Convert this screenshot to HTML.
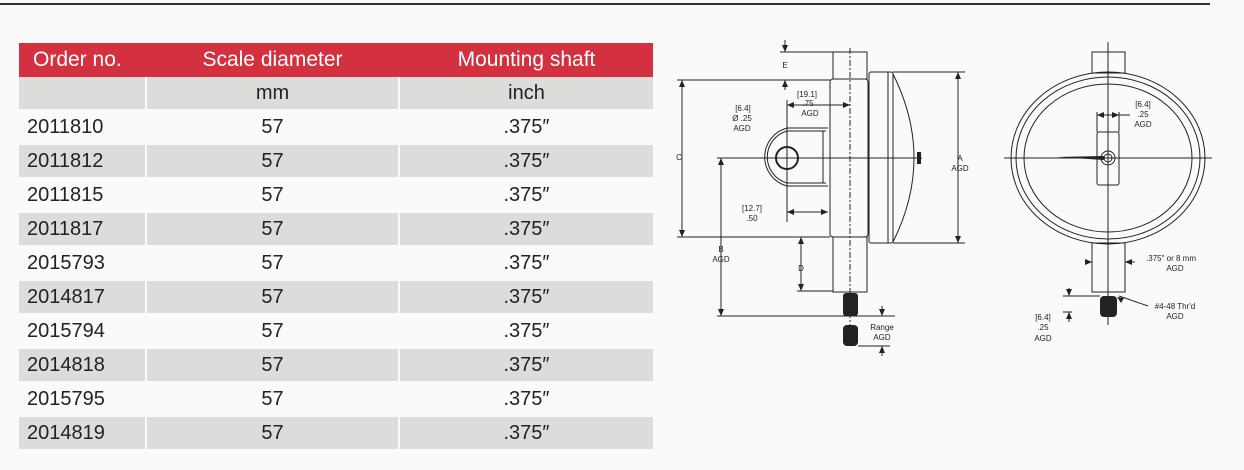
<!DOCTYPE html>
<html><head><meta charset="utf-8"><style>
body{margin:0;width:1244px;height:470px;background:#fafafa;position:relative;overflow:hidden;font-family:"Liberation Sans",sans-serif}
.top{position:absolute;left:0;top:3px;width:1210px;height:2px;background:#333}
table{position:absolute;left:19px;top:43px;border-collapse:separate;border-spacing:0;width:634px;table-layout:fixed}
td,th{height:32px;padding:0;font-size:20px;text-align:center;color:#222;font-weight:normal;border-left:2px solid #fafafa;border-bottom:2px solid #fafafa;white-space:nowrap}
td:first-child,th:first-child{border-left:none}
th{background:#d33140;color:#fff;font-size:21px;height:33px;border-bottom:1px solid #d33140;border-left-color:#d33140}
tr.g td{background:#dddcdb}
td.o{text-align:left;padding-left:8px}
th.o{text-align:left;padding-left:14px}
svg{position:absolute;left:0;top:0}
svg text{font-family:"Liberation Sans",sans-serif;font-size:8px;fill:#222;text-anchor:middle}
</style></head><body>
<div class="top"></div>
<table>
<colgroup><col style="width:126px"><col style="width:253px"><col style="width:255px"></colgroup>
<tr><th class="o">Order no.</th><th>Scale diameter</th><th>Mounting shaft</th></tr>
<tr class="g"><td></td><td>mm</td><td>inch</td></tr>
<tr><td class="o">2011810</td><td>57</td><td>.375″</td></tr>
<tr class="g"><td class="o">2011812</td><td>57</td><td>.375″</td></tr>
<tr><td class="o">2011815</td><td>57</td><td>.375″</td></tr>
<tr class="g"><td class="o">2011817</td><td>57</td><td>.375″</td></tr>
<tr><td class="o">2015793</td><td>57</td><td>.375″</td></tr>
<tr class="g"><td class="o">2014817</td><td>57</td><td>.375″</td></tr>
<tr><td class="o">2015794</td><td>57</td><td>.375″</td></tr>
<tr class="g"><td class="o">2014818</td><td>57</td><td>.375″</td></tr>
<tr><td class="o">2015795</td><td>57</td><td>.375″</td></tr>
<tr class="g"><td class="o">2014819</td><td>57</td><td>.375″</td></tr>
</table>
<svg width="1244" height="470" viewBox="0 0 1244 470">
<g fill="none" stroke="#222" stroke-width="1">
<rect x="833" y="52" width="34" height="27"/>
<rect x="830" y="79" width="38" height="158" rx="3"/>
<rect x="833" y="237" width="34" height="55"/>
<rect x="869" y="72" width="24" height="171" rx="2"/>
<line x1="888" y1="72" x2="888" y2="243"/>
<path d="M893 74 Q935 158 893 242"/>
<path d="M828 128 L787 128 A30 30 0 0 0 787 186 L828 186"/>
<path d="M826 131 L787 131 A27 27 0 0 0 787 183 L826 183"/>
<line x1="823" y1="131" x2="823" y2="183"/>
<circle cx="787" cy="158" r="11" stroke-width="2"/>
<line x1="850" y1="48" x2="850" y2="330" stroke-dasharray="6 2 2 2"/>
<line x1="717" y1="158" x2="922" y2="158"/>
<line x1="677" y1="80" x2="830" y2="80"/><line x1="677" y1="237" x2="830" y2="237"/>
<line x1="682" y1="80" x2="682" y2="237"/>
<line x1="893" y1="72" x2="965" y2="72"/><line x1="893" y1="243" x2="965" y2="243"/>
<line x1="958" y1="72" x2="958" y2="243"/>
<line x1="721" y1="158" x2="721" y2="316"/><line x1="717" y1="316" x2="895" y2="316"/>
<line x1="801" y1="237" x2="801" y2="291"/><line x1="797" y1="291" x2="833" y2="291"/>
<line x1="780" y1="52" x2="833" y2="52"/>
<line x1="785" y1="40" x2="785" y2="52"/><line x1="785" y1="80" x2="785" y2="90"/>
<line x1="787" y1="100" x2="787" y2="222"/>
<line x1="787" y1="105" x2="850" y2="105"/><line x1="787" y1="212" x2="828" y2="212"/>
<line x1="882" y1="316" x2="882" y2="306"/><line x1="882" y1="346" x2="882" y2="356"/>
<line x1="858" y1="346" x2="890" y2="346"/>
<rect x="1092" y="52" width="33" height="21"/>
<ellipse cx="1108" cy="158" rx="97" ry="86"/>
<ellipse cx="1108" cy="158" rx="92" ry="81"/>
<ellipse cx="1108" cy="158" rx="84" ry="74"/>
<rect x="1092" y="243" width="33" height="49"/>
<rect x="1097" y="132" width="22" height="53" rx="2"/>
<line x1="1004" y1="158" x2="1212" y2="158"/>
<line x1="1108" y1="42" x2="1108" y2="325"/>
<circle cx="1108" cy="158" r="7"/><circle cx="1108" cy="158" r="4"/>
<line x1="1097" y1="112" x2="1097" y2="132"/><line x1="1119" y1="112" x2="1119" y2="132"/>
<line x1="1097" y1="115" x2="1119" y2="115"/><line x1="1119" y1="115" x2="1130" y2="115"/>
<line x1="1085" y1="262" x2="1092" y2="262"/><line x1="1125" y1="262" x2="1135" y2="262"/>
<line x1="1063" y1="296" x2="1100" y2="296"/><line x1="1063" y1="312" x2="1072" y2="312"/>
<line x1="1069" y1="288" x2="1069" y2="296"/><line x1="1069" y1="312" x2="1069" y2="322"/>
<line x1="1119" y1="296" x2="1148" y2="306"/>
</g>
<path d="M1057 157 L1104 156 L1104 160 Z" fill="#222"/>
<g fill="#222">
<rect x="843" y="293" width="15" height="23" rx="3"/>
<rect x="843" y="325" width="15" height="21" rx="4"/>
<rect x="1100" y="296" width="17" height="21" rx="4"/>
<rect x="917" y="152" width="4" height="12"/>
<path d="M682 80l-3 7h6zM682 237l-3-7h6zM958 72l-3 7h6zM958 243l-3-7h6zM721 158l-3 7h6zM721 316l-3-7h6zM801 237l-3 7h6zM801 291l-3-7h6zM785 52l-3-7h6zM785 80l-3 7h6zM787 105l7-3v6zM850 105l-7-3v6zM787 212l7-3v6zM828 212l-7-3v6zM1097 115l7-3v6zM1119 115l-7-3v6zM1092 262l-7-3v6zM1125 262l7-3v6zM1069 296l-3-7h6zM1069 312l-3 7h6zM882 316l-3-7h6zM882 346l-3 7h6zM1117 297l7 1-3 5z"/>
</g>
<text x="785" y="68">E</text>
<text x="807" y="97">[19.1]</text><text x="808" y="106">.75</text><text x="810" y="116">AGD</text>
<text x="743" y="111">[6.4]</text><text x="742" y="121">Ø .25</text><text x="742" y="131">AGD</text>
<text x="679" y="160">C</text>
<text x="960" y="161">A</text><text x="960" y="171">AGD</text>
<text x="752" y="211">[12.7]</text><text x="752" y="221">.50</text>
<text x="721" y="252">B</text><text x="721" y="262">AGD</text>
<text x="801" y="271">D</text>
<text x="882" y="330">Range</text><text x="882" y="340">AGD</text>
<text x="1143" y="107">[6.4]</text><text x="1143" y="117">.25</text><text x="1143" y="127">AGD</text>
<text x="1171" y="261">.375" or 8 mm</text><text x="1175" y="271">AGD</text>
<text x="1175" y="309">#4-48 Thr'd</text><text x="1175" y="319">AGD</text>
<text x="1043" y="320">[6.4]</text><text x="1043" y="330">.25</text><text x="1043" y="341">AGD</text>
</svg>
</body></html>
